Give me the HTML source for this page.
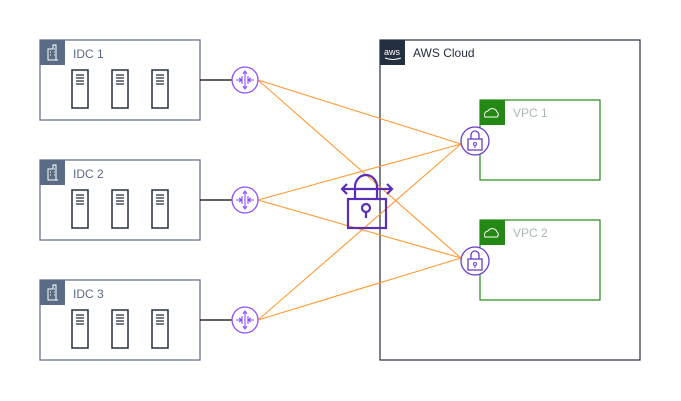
<!DOCTYPE html>
<html><head><style>body{margin:0;background:#fff}svg{display:block}text{font-family:"Liberation Sans",sans-serif}</style></head><body>
<svg width="681" height="401" viewBox="0 0 681 401" xmlns="http://www.w3.org/2000/svg">
<defs>
<g id="srv"><rect x="0" y="0" width="16" height="38" fill="#fff" stroke="#232f3e" stroke-width="1.5"/><path d="M4 5h8M4 8h8M4 11h8M4 14h8" stroke="#232f3e" stroke-width="1.2"/></g>
<g id="idc"><rect x="0" y="0" width="160" height="80" fill="#fff" stroke="#5a6b86" stroke-width="1.2"/><rect x="0" y="0" width="25" height="25" fill="#5a6b86"/><path d="M8 20V9h5v-4h3v15zM8 20h10M10 12h1M10 15h1M14 9h1M14 12h1M14 15h1" stroke="#fff" fill="none" stroke-width="1"/>
<use href="#srv" x="32" y="30"/><use href="#srv" x="72" y="30"/><use href="#srv" x="112" y="30"/></g>
<g id="rt"><circle r="13" fill="#fff" stroke="#8c4fff" stroke-width="1.3"/><path d="M-9 0h6M9 0h-6M0 -9v18M-6 -2l3 2-3 2M6 -2l-3 2 3 2M-2 -6l2-3 2 3M-2 6l2 3 2-3M-3 -4v8M3 -4v8" stroke="#8c4fff" fill="none" stroke-width="1.1"/></g>
<g id="vpn"><circle r="14" fill="#fff" stroke="#6b3ec9" stroke-width="1.3"/><rect x="-7" y="-2" width="14" height="11" fill="none" stroke="#6b3ec9" stroke-width="1.3"/><path d="M-4 -2v-4a4 4 0 0 1 8 0v4" fill="none" stroke="#6b3ec9" stroke-width="1.3"/><circle cx="0" cy="3" r="1.5" fill="none" stroke="#6b3ec9"/><path d="M0 4.5v2.5" stroke="#6b3ec9"/></g>
</defs>
<use href="#idc" x="40" y="40"/><use href="#idc" x="40" y="160"/><use href="#idc" x="40" y="280"/>
<text x="73" y="58" font-size="12" fill="#5a6b86">IDC 1</text>
<text x="73" y="178" font-size="12" fill="#5a6b86">IDC 2</text>
<text x="73" y="298" font-size="12" fill="#5a6b86">IDC 3</text>
<path d="M200 80h32M200 200h32M200 320h32" stroke="#000" stroke-width="1.2"/>
<rect x="380" y="40" width="260" height="320" fill="none" stroke="#232f3e" stroke-width="1.2"/>
<rect x="380" y="40" width="25" height="25" fill="#232f3e"/>
<text x="384" y="55" font-size="9" fill="#fff">aws</text>
<path d="M385 58q8 3 16 0" stroke="#fff" fill="none"/>
<text x="413" y="57" font-size="12" fill="#232f3e">AWS Cloud</text>
<rect x="480" y="100" width="120" height="80" fill="none" stroke="#248814" stroke-width="1.2"/>
<rect x="480" y="100" width="25" height="25" fill="#248814"/>
<text x="513" y="117" font-size="12" fill="#aab7b8">VPC 1</text>
<rect x="480" y="220" width="120" height="80" fill="none" stroke="#248814" stroke-width="1.2"/>
<rect x="480" y="220" width="25" height="25" fill="#248814"/>
<text x="513" y="237" font-size="12" fill="#aab7b8">VPC 2</text>
<path d="M485 117a4 4 0 0 1 3-6a5 5 0 0 1 9 1a3 3 0 0 1 0 5z M485 237a4 4 0 0 1 3-6a5 5 0 0 1 9 1a3 3 0 0 1 0 5z" fill="none" stroke="#fff"/>
<g stroke="#ff9933" stroke-width="1.1" fill="none">
<path d="M258 80L461 144M258 80L461 258M258 200L461 144M258 200L461 258M258 320L461 144M258 320L461 258"/>
</g>
<use href="#rt" x="245" y="80"/><use href="#rt" x="245" y="200"/><use href="#rt" x="245" y="320"/>
<use href="#vpn" x="475" y="141"/><use href="#vpn" x="475" y="261"/>
<g stroke="#5a2fb8" stroke-width="2.2" fill="none">
<rect x="348" y="199" width="38" height="29" fill="none"/>
<path d="M355 199v-12a11 12 0 0 1 22 0v12"/>
<path d="M342 189h50M347 184l-5 5 5 5M387 184l5 5-5 5"/>
<circle cx="366" cy="208" r="4"/><path d="M366 212v6"/>
</g>
</svg>
</body></html>
